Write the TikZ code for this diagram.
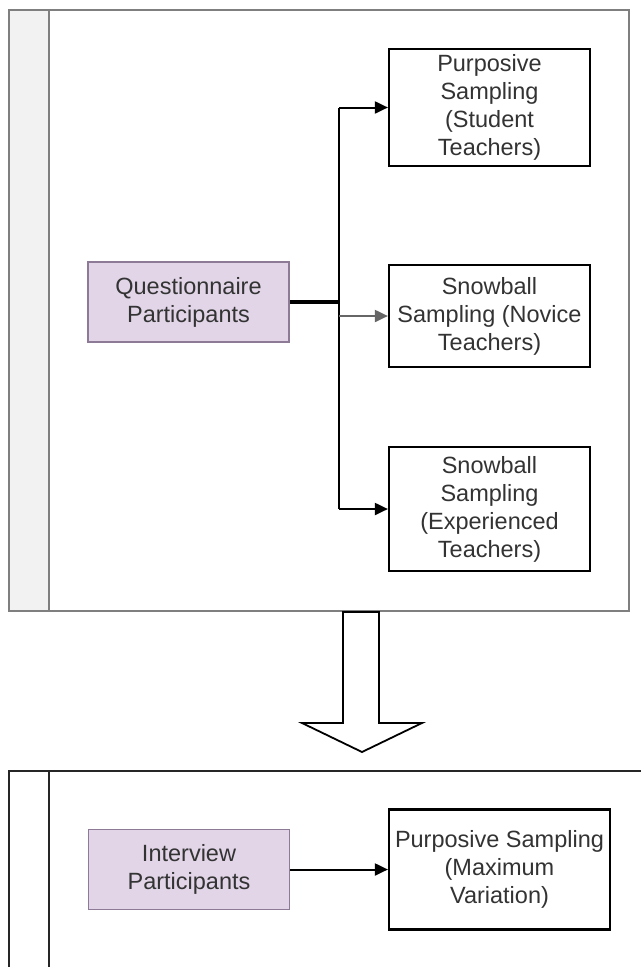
\documentclass[tikz,border=0pt]{standalone}
\usepackage{fontspec}
\setmainfont{Liberation Sans}
\usetikzlibrary{arrows.meta}
\definecolor{lanegrey}{HTML}{7F7F7F}
\definecolor{stripefill}{HTML}{F2F2F2}
\definecolor{partfill}{HTML}{E1D5E7}
\definecolor{partline}{HTML}{8C7A96}
\definecolor{txt}{HTML}{333333}
\tikzset{
  x=1pt, y=-1pt,
  every node/.style={font=\fontsize{23.5}{28}\selectfont, text=txt, align=center, inner sep=0pt},
  sampbox/.style={draw=black, line width=2.2pt, fill=white, minimum width=201pt},
  partbox/.style={draw=partline, line width=1.8pt, fill=partfill, minimum width=201pt, minimum height=80pt},
  link/.style={line width=2pt, black},
  arr/.style={link, -{Triangle[length=13pt, width=12pt]}},
}
\begin{document}
\begin{tikzpicture}
\useasboundingbox (0,0) rectangle (641,967);

% upper lane
\fill[stripefill] (9,10) rectangle (49,611);
\draw[lanegrey, line width=2.2pt] (9,10) rectangle (629,611);
\draw[lanegrey, line width=2.2pt] (49,10) -- (49,611);

% lower lane (continues past the page edges)
\draw[black!85, line width=2.2pt] (641,771) -- (9,771) -- (9,967);
\draw[black!85, line width=2.2pt] (49,771) -- (49,967);

% hollow transition arrow
\draw[black, line width=1.8pt, fill=white, line join=miter]
  (343,612) -- (379,612) -- (379,723) -- (422,723) -- (362,752)
  -- (302,723) -- (343,723) -- cycle;

% upper lane nodes
\node[partbox] (quest) at (188.5,302) {Questionnaire\\Participants};
\node[sampbox, minimum height=117pt] (student) at (489.5,107.5) {Purposive\\Sampling\\(Student\\Teachers)};
\node[sampbox, minimum height=102pt] (novice) at (489.5,316) {Snowball\\Sampling (Novice\\Teachers)};
\node[sampbox, minimum height=124pt] (exper) at (489.5,509) {Snowball\\Sampling\\(Experienced\\Teachers)};

% lower lane nodes
\node[partbox] (inter) at (189,869.5) {Interview\\Participants};
\node[sampbox, minimum height=120pt, minimum width=221pt] (maxvar) at (499.5,869.5) {Purposive Sampling\\(Maximum\\Variation)};

% branching connectors
\coordinate (split) at (339,302);
\coordinate (trunktop) at (339,107.5);
\coordinate (trunkmid) at (339,316);
\coordinate (trunkbot) at (339,509);
\draw[link, line width=3.4pt] (quest.east) -- (split);
\draw[link] (trunktop) -- (trunkbot);
\draw[arr] (trunktop) -- (student.west);
\draw[arr, black!60] (trunkmid) -- (novice.west);
\draw[arr] (trunkbot) -- (exper.west);

\draw[arr] (inter.east) -- (maxvar.west);
\end{tikzpicture}
\end{document}
